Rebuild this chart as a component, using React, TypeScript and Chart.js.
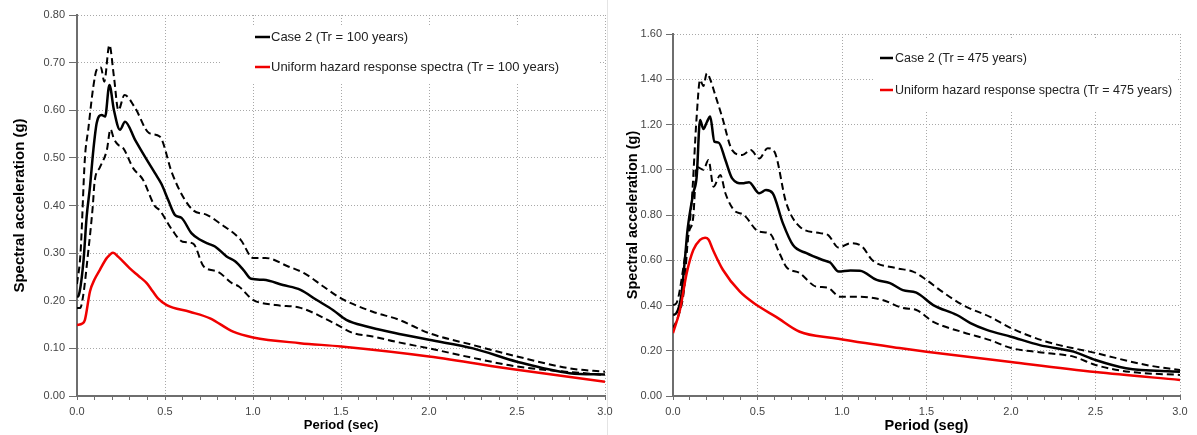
import React, { useEffect, useRef } from 'react';
import { Chart, registerables } from 'chart.js';
Chart.register(...registerables);

const FONT = "'Liberation Sans', Arial, Helvetica, sans-serif";
Chart.defaults.font.family = FONT;

// ---------- Left chart: Tr = 100 years ----------
const t100MedianX = [0.0, 0.008, 0.036, 0.055, 0.074, 0.093, 0.112, 0.14, 0.16, 0.184, 0.21, 0.244, 0.273, 0.33, 0.39, 0.443, 0.48, 0.52, 0.557, 0.594, 0.65, 0.7, 0.745, 0.784, 0.85, 0.898, 0.945, 0.99, 1.06, 1.17, 1.27, 1.36, 1.456, 1.53, 1.646, 1.8, 2.0, 2.25, 2.5, 2.8, 3.0];
const t100MedianY = [0.208, 0.21, 0.28, 0.377, 0.44, 0.517, 0.573, 0.59, 0.587, 0.653, 0.6, 0.559, 0.576, 0.538, 0.5, 0.468, 0.445, 0.41, 0.38, 0.374, 0.342, 0.328, 0.32, 0.314, 0.293, 0.283, 0.265, 0.246, 0.244, 0.233, 0.223, 0.202, 0.18, 0.16, 0.146, 0.133, 0.118, 0.1, 0.072, 0.048, 0.045];

const t100UpperX = [0.0, 0.02, 0.045, 0.064, 0.093, 0.112, 0.136, 0.155, 0.184, 0.21, 0.235, 0.27, 0.33, 0.41, 0.47, 0.54, 0.6, 0.66, 0.74, 0.81, 0.93, 1.0, 1.07, 1.2, 1.29, 1.4, 1.5, 1.68, 1.83, 2.0, 2.25, 2.5, 2.8, 3.0];
const t100UpperY = [0.235, 0.3, 0.5, 0.56, 0.65, 0.685, 0.69, 0.66, 0.737, 0.67, 0.6, 0.632, 0.605, 0.552, 0.545, 0.468, 0.42, 0.39, 0.38, 0.363, 0.328, 0.29, 0.29, 0.272, 0.258, 0.23, 0.205, 0.177, 0.16, 0.132, 0.107, 0.083, 0.058, 0.051];

const t100LowerX = [0.0, 0.018, 0.034, 0.063, 0.09, 0.1, 0.13, 0.17, 0.19, 0.21, 0.235, 0.26, 0.32, 0.375, 0.44, 0.47, 0.54, 0.6, 0.66, 0.72, 0.8, 0.88, 0.92, 1.0, 1.13, 1.27, 1.46, 1.57, 1.68, 1.81, 2.0, 2.25, 2.5, 3.0];
const t100LowerY = [0.185, 0.185, 0.208, 0.3, 0.4, 0.45, 0.48, 0.517, 0.56, 0.54, 0.527, 0.522, 0.478, 0.454, 0.4, 0.39, 0.349, 0.324, 0.32, 0.272, 0.261, 0.237, 0.23, 0.202, 0.191, 0.185, 0.153, 0.132, 0.125, 0.114, 0.1, 0.08, 0.062, 0.044];

const t100UhsX = [0.0, 0.03, 0.045, 0.074, 0.1, 0.13, 0.17, 0.205, 0.235, 0.3, 0.35, 0.396, 0.43, 0.46, 0.51, 0.64, 0.756, 0.887, 1.0, 1.267, 1.5, 2.0, 2.5, 3.0];
const t100UhsY = [0.149, 0.152, 0.16, 0.22, 0.245, 0.265, 0.29, 0.301, 0.292, 0.268, 0.252, 0.237, 0.22, 0.205, 0.191, 0.177, 0.163, 0.135, 0.123, 0.111, 0.104, 0.083, 0.055, 0.03];

// ---------- Right chart: Tr = 475 years ----------
const t475MedianX = [0.0, 0.02, 0.048, 0.07, 0.086, 0.12, 0.14, 0.16, 0.18, 0.2, 0.22, 0.245, 0.27, 0.31, 0.35, 0.41, 0.45, 0.51, 0.55, 0.59, 0.65, 0.71, 0.79, 0.89, 0.93, 0.98, 1.05, 1.106, 1.205, 1.284, 1.36, 1.44, 1.54, 1.68, 1.76, 1.856, 2.0, 2.17, 2.37, 2.5, 2.68, 3.0];
const t475MedianY = [0.358, 0.366, 0.439, 0.6, 0.734, 0.896, 0.969, 1.22, 1.18, 1.21, 1.235, 1.124, 1.12, 1.043, 0.962, 0.94, 0.945, 0.896, 0.91, 0.896, 0.764, 0.667, 0.631, 0.6, 0.59, 0.55, 0.555, 0.554, 0.513, 0.499, 0.468, 0.457, 0.402, 0.358, 0.322, 0.292, 0.262, 0.225, 0.196, 0.159, 0.123, 0.107];

const t475UpperX = [0.0, 0.02, 0.065, 0.11, 0.14, 0.16, 0.18, 0.2, 0.22, 0.25, 0.29, 0.35, 0.41, 0.46, 0.51, 0.56, 0.6, 0.67, 0.75, 0.87, 0.92, 0.98, 1.05, 1.12, 1.18, 1.32, 1.42, 1.5, 1.58, 1.72, 1.876, 2.0, 2.21, 2.5, 2.8, 3.0];
const t475UpperY = [0.402, 0.41, 0.587, 0.853, 1.235, 1.397, 1.37, 1.426, 1.4, 1.33, 1.235, 1.087, 1.065, 1.087, 1.05, 1.095, 1.08, 0.853, 0.748, 0.72, 0.71, 0.656, 0.675, 0.66, 0.6, 0.565, 0.55, 0.513, 0.468, 0.4, 0.35, 0.3, 0.24, 0.19, 0.137, 0.115];

const t475LowerX = [0.0, 0.03, 0.065, 0.09, 0.12, 0.14, 0.18, 0.21, 0.24, 0.28, 0.31, 0.36, 0.42, 0.51, 0.57, 0.63, 0.67, 0.75, 0.85, 0.91, 0.99, 1.1, 1.24, 1.36, 1.44, 1.54, 1.72, 1.876, 2.0, 2.21, 2.37, 2.5, 2.7, 3.0];
const t475LowerY = [0.3, 0.35, 0.468, 0.704, 0.792, 1.013, 1.0, 1.043, 0.925, 0.977, 0.896, 0.822, 0.8, 0.726, 0.72, 0.631, 0.571, 0.543, 0.483, 0.48, 0.439, 0.439, 0.424, 0.389, 0.38, 0.328, 0.281, 0.247, 0.212, 0.19, 0.174, 0.137, 0.107, 0.093];

const t475UhsX = [0.0, 0.041, 0.081, 0.12, 0.16, 0.19, 0.21, 0.237, 0.296, 0.396, 0.495, 0.61, 0.75, 0.947, 1.34, 1.5, 2.0, 2.5, 3.0];
const t475UhsY = [0.278, 0.38, 0.543, 0.645, 0.69, 0.7, 0.692, 0.645, 0.557, 0.461, 0.402, 0.35, 0.284, 0.256, 0.212, 0.196, 0.15, 0.106, 0.071];

const zip = (xs: number[], ys: number[]) => xs.map((x, i) => ({ x, y: ys[i] }));

type LegendCfg = {
  box: { x: number; y: number; w: number; h: number };
  items: { label: string; color: string; y: number }[];
  lineX1: number;
  lineX2: number;
  textX: number;
  fontSize: number;
};

function legendPlugin(cfg: LegendCfg) {
  return {
    id: 'customLegend',
    afterDraw(chart: any) {
      const ctx = chart.ctx as CanvasRenderingContext2D;
      ctx.save();
      ctx.fillStyle = '#ffffff';
      ctx.fillRect(cfg.box.x, cfg.box.y, cfg.box.w, cfg.box.h);
      ctx.font = `${cfg.fontSize}px ${FONT}`;
      ctx.textBaseline = 'middle';
      ctx.textAlign = 'left';
      for (const it of cfg.items) {
        ctx.strokeStyle = it.color;
        ctx.lineWidth = 2.5;
        ctx.setLineDash([]);
        ctx.beginPath();
        ctx.moveTo(cfg.lineX1, it.y);
        ctx.lineTo(cfg.lineX2, it.y);
        ctx.stroke();
        ctx.fillStyle = '#222';
        ctx.fillText(it.label, cfg.textX, it.y + 0.5);
      }
      ctx.restore();
    },
  };
}

type ChartParams = {
  median: { x: number; y: number }[];
  upper: { x: number; y: number }[];
  lower: { x: number; y: number }[];
  uhs: { x: number; y: number }[];
  yMax: number;
  yStep: number;
  xTitle: string;
  xTitleSize: number;
  xTitlePadBottom: number;
  yTitleSize: number;
  yTitlePadTop: number;
  yAxisWidth: number;
  xAxisHeight: number;
  tickSize: number;
  yTickLength: number;
  padding: { left: number; right: number; top: number; bottom: number };
  legend: LegendCfg;
};

const AXIS = '#6e6e6e';
const GRID = '#a8a8a8';
const TICK_TEXT = '#444444';
const RED = '#f00000';

function makeConfig(p: ChartParams): any {
  return {
    type: 'line',
    data: {
      datasets: [
        { label: 'median', data: p.median, borderColor: '#000', borderWidth: 2.5, pointRadius: 0, fill: false, cubicInterpolationMode: 'monotone', order: 1 },
        { label: 'upper', data: p.upper, borderColor: '#000', borderWidth: 2, borderDash: [7, 4], pointRadius: 0, fill: false, cubicInterpolationMode: 'monotone', order: 2 },
        { label: 'lower', data: p.lower, borderColor: '#000', borderWidth: 2, borderDash: [7, 4], pointRadius: 0, fill: false, cubicInterpolationMode: 'monotone', order: 3 },
        { label: 'uhs', data: p.uhs, borderColor: RED, borderWidth: 2.5, pointRadius: 0, fill: false, cubicInterpolationMode: 'monotone', order: 0 },
      ],
    },
    options: {
      animation: false,
      responsive: false,
      events: [],
      layout: { padding: p.padding },
      plugins: { legend: { display: false }, tooltip: { enabled: false } },
      scales: {
        x: {
          type: 'linear',
          min: 0,
          max: 3,
          afterFit: (s: any) => { s.height = p.xAxisHeight; },
          ticks: {
            stepSize: 0.1,
            autoSkip: false,
            maxRotation: 0,
            minRotation: 0,
            padding: 5,
            color: TICK_TEXT,
            font: { size: p.tickSize, family: FONT },
            callback: (v: any) => {
              const n = Math.round(Number(v) * 10);
              return n % 5 === 0 ? (n / 10).toFixed(1) : '';
            },
          },
          grid: {
            color: (c: any) => {
              const n = Math.round(Number(c.tick?.value ?? 0) * 10);
              return n % 5 === 0 && n > 0 ? GRID : 'rgba(0,0,0,0)';
            },
            lineWidth: 1,
            tickColor: AXIS,
            tickLength: 4,
            tickWidth: 1,
            tickBorderDash: [],
          },
          border: { color: AXIS, width: 2, dash: [1, 2] },
          title: {
            display: true,
            text: p.xTitle,
            color: '#000',
            font: { size: p.xTitleSize, weight: 'bold', family: FONT },
            padding: { top: 0, bottom: p.xTitlePadBottom },
          },
        },
        y: {
          type: 'linear',
          min: 0,
          max: p.yMax,
          afterFit: (s: any) => { s.width = p.yAxisWidth; },
          ticks: {
            stepSize: p.yStep,
            padding: 4,
            color: TICK_TEXT,
            font: { size: p.tickSize, family: FONT },
            callback: (v: any) => Number(v).toFixed(2),
          },
          grid: {
            color: GRID,
            lineWidth: 1,
            tickColor: AXIS,
            tickLength: p.yTickLength,
            tickWidth: 1,
            tickBorderDash: [],
          },
          border: { color: AXIS, width: 2, dash: [1, 2] },
          title: {
            display: true,
            text: 'Spectral acceleration (g)',
            color: '#000',
            font: { size: p.yTitleSize, weight: 'bold', family: FONT },
            padding: { top: p.yTitlePadTop, bottom: 0 },
          },
        },
      },
    },
    plugins: [legendPlugin(p.legend)],
  };
}

export default function App() {
  const leftRef = useRef<HTMLCanvasElement>(null);
  const rightRef = useRef<HTMLCanvasElement>(null);

  useEffect(() => {
    const left = new Chart(leftRef.current as HTMLCanvasElement, makeConfig({
      median: zip(t100MedianX, t100MedianY),
      upper: zip(t100UpperX, t100UpperY),
      lower: zip(t100LowerX, t100LowerY),
      uhs: zip(t100UhsX, t100UhsY),
      yMax: 0.8,
      yStep: 0.1,
      xTitle: 'Period (sec)',
      xTitleSize: 13,
      xTitlePadBottom: 2,
      yTitleSize: 15,
      yTitlePadTop: 10.5,
      yAxisWidth: 77,
      xAxisHeight: 39,
      tickSize: 11,
      yTickLength: 8,
      padding: { left: 0, right: 20, top: 15, bottom: 0 },
      legend: {
        box: { x: 222, y: 26, w: 378, h: 58 },
        items: [
          { label: 'Case 2 (Tr = 100 years)', color: '#000', y: 37 },
          { label: 'Uniform hazard response spectra (Tr = 100 years)', color: RED, y: 67 },
        ],
        lineX1: 255,
        lineX2: 270,
        textX: 271,
        fontSize: 13,
      },
    }));
    const right = new Chart(rightRef.current as HTMLCanvasElement, makeConfig({
      median: zip(t475MedianX, t475MedianY),
      upper: zip(t475UpperX, t475UpperY),
      lower: zip(t475LowerX, t475LowerY),
      uhs: zip(t475UhsX, t475UhsY),
      yMax: 1.6,
      yStep: 0.2,
      xTitle: 'Period (seg)',
      xTitleSize: 14.5,
      xTitlePadBottom: 0.8,
      yTitleSize: 14.5,
      yTitlePadTop: 16.8,
      yAxisWidth: 66,
      xAxisHeight: 39,
      tickSize: 11,
      yTickLength: 7,
      padding: { left: 0, right: 17, top: 34, bottom: 0 },
      legend: {
        box: { x: 266, y: 40, w: 304, h: 72 },
        items: [
          { label: 'Case 2 (Tr = 475 years)', color: '#000', y: 58 },
          { label: 'Uniform hazard response spectra (Tr = 475 years)', color: RED, y: 90 },
        ],
        lineX1: 273,
        lineX2: 286,
        textX: 288,
        fontSize: 12.5,
      },
    }));
    return () => {
      left.destroy();
      right.destroy();
    };
  }, []);

  return (
    <div style={{ position: 'absolute', left: 0, top: 0, width: 1197, height: 435, background: '#fff', overflow: 'hidden' }}>
      <div style={{ position: 'absolute', left: 607, top: 0, width: 1, height: 435, background: '#e4e4e4' }} />
      <canvas ref={leftRef} width={625} height={435} style={{ position: 'absolute', left: 0, top: 0, width: 625, height: 435 }} />
      <canvas ref={rightRef} width={590} height={435} style={{ position: 'absolute', left: 607, top: 0, width: 590, height: 435 }} />
    </div>
  );
}
